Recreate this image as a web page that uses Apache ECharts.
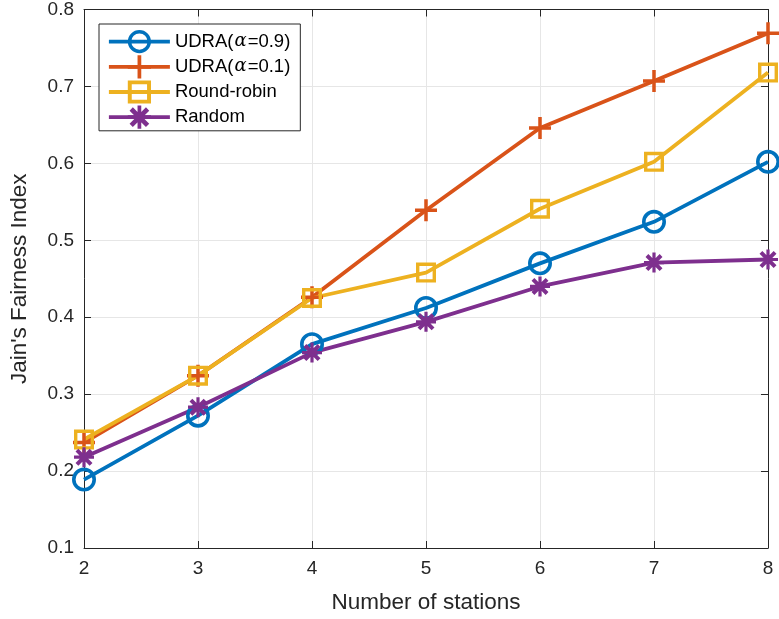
<!DOCTYPE html>
<html>
<head>
<meta charset="utf-8">
<script src="https://cdn.jsdelivr.net/npm/echarts@6/dist/echarts.min.js"></script>
<style>
html,body{margin:0;padding:0;background:#fff;}
#main{width:779px;height:619px;}
</style>
</head>
<body>
<div id="main"></div>
<script>
// 数据
var stations = [2, 3, 4, 5, 6, 7, 8];
var udra09 = [0.189, 0.272, 0.365, 0.412, 0.470, 0.524, 0.602];
var udra01 = [0.237, 0.324, 0.426, 0.539, 0.646, 0.707, 0.769];
var roundRobin = [0.241, 0.324, 0.425, 0.458, 0.541, 0.602, 0.718];
var randomSel = [0.218, 0.283, 0.354, 0.394, 0.440, 0.471, 0.475];

// MATLAB 风格标记（空心，线可穿过）
var ringPath = 'path://M12,0 A12,12 0 1,1 12,24 A12,12 0 1,1 12,0 Z ' +
    'M12,3.6 A8.4,8.4 0 1,0 12,20.4 A8.4,8.4 0 1,0 12,3.6 Z';
var squarePath = 'path://M0,0 H20 V20 H0 Z M3.4,3.4 V16.6 H16.6 V3.4 Z';
var plusPath = 'path://M8.4,0 H11.6 V8.4 H20 V11.6 H11.6 V20 H8.4 V11.6 H0 V8.4 H8.4 Z';
var starPath = 'path://M8.4,0 H11.6 V20 H8.4 Z M0,8.4 H20 V11.6 H0 Z ' +
    'M4.34,1.52 L18.48,15.66 L15.66,18.48 L1.52,4.34 Z ' +
    'M15.66,1.52 L18.48,4.34 L4.34,18.48 L1.52,15.66 Z';

function pairs(vals) {
    var d = [];
    for (var i = 0; i < stations.length; i++) {
        d.push([stations[i], vals[i]]);
    }
    return d;
}

var font = 'Liberation Sans, Arial, sans-serif';
var axisColor = '#262626';
var chart = echarts.init(document.getElementById('main'));

function mkSeries(name, vals, color, symbol, size) {
    return {
        name: name,
        type: 'line',
        data: pairs(vals),
        symbol: symbol,
        symbolSize: size,
        showAllSymbol: true,
        lineStyle: {color: color, width: 3.8},
        itemStyle: {color: color, borderWidth: 0},
        emphasis: {disabled: true},
        animation: false
    };
}

// 上、右两条辅助轴（只画刻度）
function boxAxis(extra) {
    var a = {
        axisLine: {show: true, lineStyle: {color: axisColor, width: 1}},
        axisTick: {show: true, inside: true, length: 7, lineStyle: {color: axisColor}},
        axisLabel: {show: false},
        splitLine: {show: false}
    };
    for (var k in extra) a[k] = extra[k];
    return a;
}

var option = {
    backgroundColor: '#fff',
    animation: false,
    textStyle: {fontFamily: font},
    grid: {
        left: 82, right: 11, top: 8, bottom: 70
    },
    legend: {
        orient: 'vertical',
        left: 99, top: 24,
        padding: [6, 10, 2, 8],
        itemWidth: 61,
        itemHeight: 29,
        itemGap: 2,
        backgroundColor: '#fff',
        borderColor: axisColor,
        borderWidth: 1,
        lineStyle: {width: 3.8},
        textStyle: {
            fontFamily: font, fontSize: 18.5, color: '#000',
            rich: {
                n: {fontFamily: font, fontSize: 18.5, color: '#000'},
                a: {fontFamily: 'DejaVu Serif, serif', fontStyle: 'italic', fontSize: 18, color: '#000', padding: [0, 1, 0, 1]}
            }
        },
        formatter: function (name) {
            var m = name.match(/^UDRA\(α=(.*)\)$/);
            if (m) return '{n|UDRA(}{a|α}{n|=' + m[1] + ')}';
            return '{n|' + name + '}';
        },
        data: ['UDRA(α=0.9)', 'UDRA(α=0.1)', 'Round-robin', 'Random']
    },
    xAxis: [{
        type: 'value',
        min: 2, max: 8, interval: 1,
        name: 'Number of stations',
        nameLocation: 'middle',
        nameGap: 43,
        nameTextStyle: {fontFamily: font, fontSize: 22.5, color: axisColor},
        axisLine: {lineStyle: {color: axisColor, width: 1}},
        axisTick: {inside: true, length: 7, lineStyle: {color: axisColor}},
        axisLabel: {fontFamily: font, fontSize: 19, color: axisColor, margin: 11},
        splitLine: {show: true, lineStyle: {color: '#e6e6e6', width: 1}}
    }, boxAxis({type: 'value', position: 'top', min: 2, max: 8, interval: 1})],
    yAxis: [{
        type: 'value',
        min: 0.1, max: 0.8, interval: 0.1,
        name: "Jain's Fairness Index",
        nameLocation: 'middle',
        nameGap: 53,
        nameTextStyle: {fontFamily: font, fontSize: 22.5, color: axisColor},
        axisLine: {show: true, lineStyle: {color: axisColor, width: 1}},
        axisTick: {show: true, inside: true, length: 7, lineStyle: {color: axisColor}},
        axisLabel: {
            fontFamily: font, fontSize: 19, color: axisColor, margin: 10,
            formatter: function (v) { return v.toFixed(1); }
        },
        splitLine: {show: true, lineStyle: {color: '#e6e6e6', width: 1}}
    }, boxAxis({type: 'value', position: 'right', min: 0.1, max: 0.8, interval: 0.1})],
    series: [
        mkSeries('UDRA(α=0.9)', udra09, '#0072BD', ringPath, 24),
        mkSeries('UDRA(α=0.1)', udra01, '#D95319', plusPath, 22),
        mkSeries('Round-robin', roundRobin, '#EDB120', squarePath, 20),
        mkSeries('Random', randomSel, '#7E2F8E', starPath, 20)
    ]
};
chart.setOption(option);
</script>
</body>
</html>
